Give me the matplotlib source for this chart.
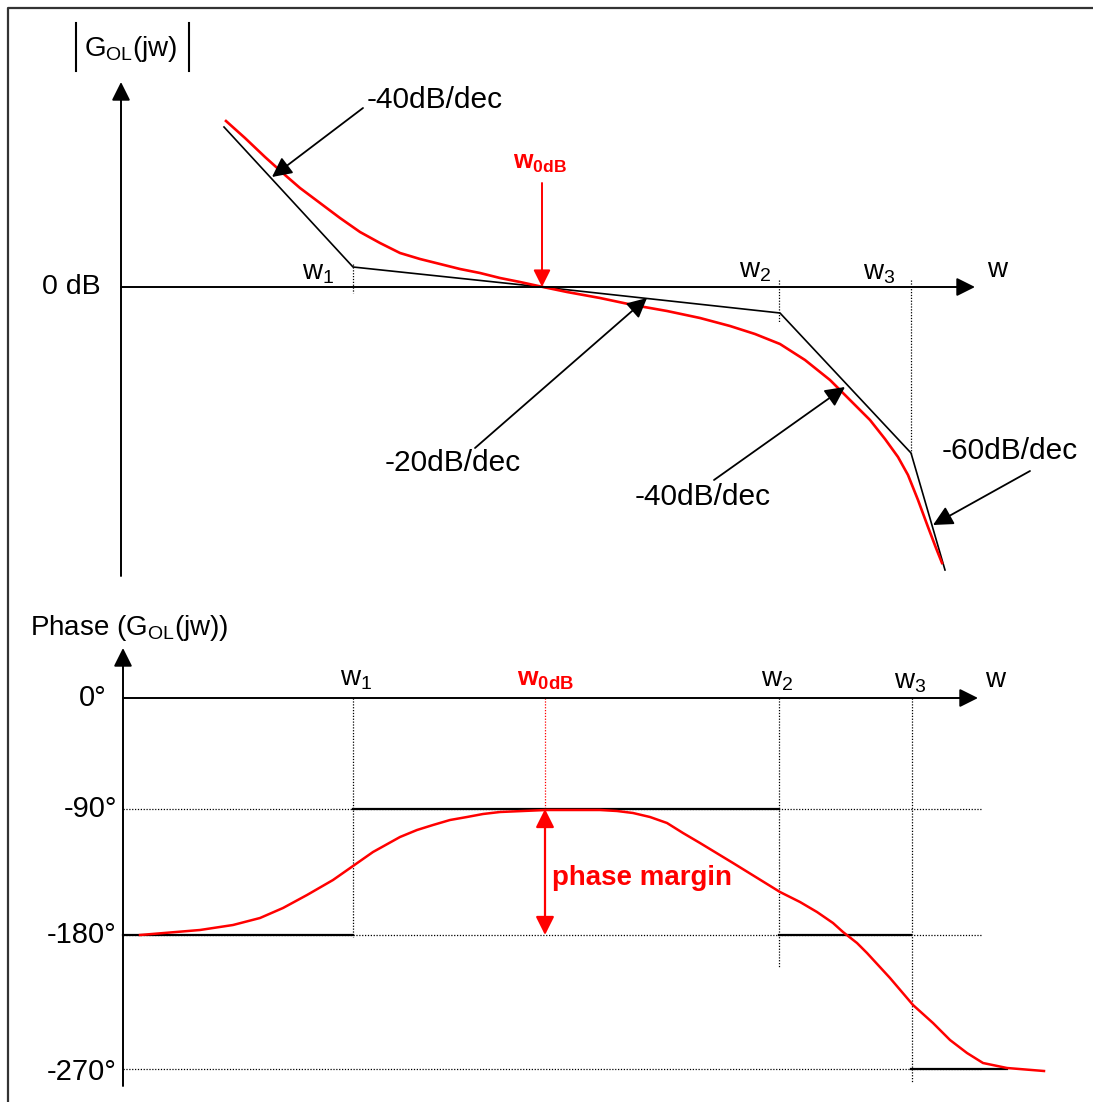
"""Bode sketch: open-loop magnitude asymptotes + phase with phase margin."""

import matplotlib.pyplot as plt

plt.rcParams.update({
    "font.family": ["Liberation Sans", "DejaVu Sans"],
    "mathtext.fontset": "custom",
    "mathtext.rm": "Liberation Sans",
    "mathtext.it": "Liberation Sans",
    "mathtext.bf": "Liberation Sans:bold",
    "lines.solid_joinstyle": "round",
})

RED = "#ff0000"

# --- positions (pixel units, y down)
W1, W0DB, W2, W3 = 353, 542, 779, 911
Y_0DB = 287

# magnitude: straight-line asymptotes
mag_asym_x = [224, 353, 542, 780, 911, 945]
mag_asym_y = [127, 267, 287, 313, 453, 570]

# magnitude: real curve
mag_x = [226, 245, 265, 285, 300, 320, 340, 360, 380, 400, 420, 440, 460,
         480, 500, 520, 543, 567, 600, 633, 667, 700, 730, 755, 780, 805,
         830, 850, 870, 885, 898, 908, 918, 928, 936, 942]
mag_y = [121, 138, 157, 175, 188, 203, 218, 232, 243, 253, 259, 264, 269,
         273, 278, 282, 287, 292, 298, 305, 311, 318, 326, 334, 344, 360,
         380, 400, 420, 439, 457, 475, 500, 527, 548, 563]

# phase levels
phase_ticks = ["0°", "-90°", "-180°", "-270°"]
phase_y = [698, 809, 935, 1069]

# phase asymptote segments (x0, x1, level index)
phase_seg_x0 = [123, 353, 779, 911]
phase_seg_x1 = [353, 779, 911, 1007]
phase_seg_lvl = [2, 1, 2, 3]

# phase: real curve
ph_x = [140, 200, 233, 260, 283, 307, 333, 353, 373, 400, 417, 433, 450,
        467, 483, 500, 546, 600, 617, 633, 650, 667, 683, 700, 733, 780,
        800, 817, 833, 843, 857, 867, 890, 913, 933, 950, 967, 983, 1007, 1044]
ph_y = [935, 930, 925, 918, 908, 895, 880, 866, 852, 837, 830, 825, 820,
        817, 814, 812, 810, 810, 811, 813, 817, 823, 833, 843, 863, 892,
        902, 912, 923, 932, 943, 953, 978, 1005, 1023, 1040, 1053, 1063, 1068, 1071]

# slope callouts: label, text position, arrow tail, arrow tip
slope_labels = ["-40dB/dec", "-20dB/dec", "-40dB/dec", "-60dB/dec"]
slope_text = [(367, 100), (385, 463), (635, 497), (942, 451)]
slope_tail = [(363, 108), (475, 448), (714, 480), (1030, 471)]
slope_tip = [(272, 177), (647, 298), (845, 387), (933, 525)]


def arrow(ax, tail, tip, color="k", lw=1.4, style="-|>", ms=26):
    ax.annotate("", xy=tip, xytext=tail,
                arrowprops=dict(arrowstyle=style, color=color, lw=lw,
                                mutation_scale=ms, shrinkA=0, shrinkB=0))


fig = plt.figure(figsize=(10.93, 11.02), dpi=100)
ax = fig.add_axes([0, 0, 1, 1])
ax.set_xlim(0, 1093)
ax.set_ylim(1102, 0)
ax.axis("off")

# outer frame (top + left only are visible)
ax.plot([8, 8, 1093], [1102, 8, 8], color="#333333", lw=1.6)

FS = 20
FS_SLOPE = 21.5
dot = (0, (1, 1.3))

# ================= magnitude =================
arrow(ax, (121, 576), (121, 82), ms=28)
arrow(ax, (121, Y_0DB), (975, Y_0DB), ms=28)
ax.plot([76, 76], [23, 71], color="k", lw=1.5)
ax.plot([189, 189], [23, 71], color="k", lw=1.5)
ax.text(131, 49, r"$\mathregular{G_{OL}(jw)}$", fontsize=FS, ha="center", va="center")
ax.text(101, 287, "0 dB", fontsize=FS + 0.5, ha="right", va="center")
ax.text(997, 270, "w", fontsize=FS, ha="center", va="center")
ax.text(318, 273, r"$\mathregular{w_1}$", fontsize=FS, ha="center", va="center")
ax.text(755, 271, r"$\mathregular{w_2}$", fontsize=FS, ha="center", va="center")
ax.text(879, 273, r"$\mathregular{w_3}$", fontsize=FS, ha="center", va="center")

ax.plot([W1, W1], [264, 293], color="k", lw=0.9, ls=dot)
ax.plot([W2, W2], [280, 323], color="k", lw=0.9, ls=dot)
ax.plot([W3, W3], [280, 455], color="k", lw=0.9, ls=dot)

ax.plot(mag_asym_x, mag_asym_y, color="k", lw=1.2)
ax.plot(mag_x, mag_y, color=RED, lw=1.9)

for lab, (tx, ty), tail, tip in zip(slope_labels, slope_text, slope_tail, slope_tip):
    ax.text(tx, ty, lab, fontsize=FS_SLOPE, ha="left", va="center")
    arrow(ax, tail, tip, lw=1.3, ms=30)

ax.text(540, 163, r"$\mathbf{w_{0dB}}$", fontsize=FS - 2, color=RED,
        ha="center", va="center")
arrow(ax, (W0DB, 183), (W0DB, Y_0DB), color=RED, lw=1.4, ms=26)

# ================= phase =================
ax.text(30, 628, r"Phase ($\mathregular{G_{OL}(jw)}$)", fontsize=FS,
        ha="left", va="center")
arrow(ax, (123, 1086), (123, 648), ms=28)
arrow(ax, (123, phase_y[0]), (978, phase_y[0]), ms=28)
ax.text(995, 680, "w", fontsize=FS, ha="center", va="center")
ax.text(356, 679, r"$\mathregular{w_1}$", fontsize=FS, ha="center", va="center")
ax.text(777, 680, r"$\mathregular{w_2}$", fontsize=FS, ha="center", va="center")
ax.text(910, 682, r"$\mathregular{w_3}$", fontsize=FS, ha="center", va="center")
ax.text(545, 680, r"$\mathbf{w_{0dB}}$", fontsize=FS - 1, color=RED,
        ha="center", va="center")

for lab, y in zip(phase_ticks, phase_y):
    ax.text(117 if lab != "0°" else 107, y + (3 if lab == "-270°" else 0), lab,
            fontsize=FS + 1, ha="right", va="center")
for y in phase_y[1:]:
    ax.plot([123, 982], [y, y], color="k", lw=0.9, ls=dot)

ax.plot([W1, W1], [phase_y[0], 937], color="k", lw=0.9, ls=dot)
ax.plot([W0DB + 3, W0DB + 3], [phase_y[0], 809], color=RED, lw=0.9, ls=dot)
ax.plot([W2, W2], [phase_y[0], 967], color="k", lw=0.9, ls=dot)
ax.plot([W3 + 1, W3 + 1], [phase_y[0], 1082], color="k", lw=0.9, ls=dot)

for x0, x1, lv in zip(phase_seg_x0, phase_seg_x1, phase_seg_lvl):
    ax.plot([x0, x1], [phase_y[lv], phase_y[lv]], color="k", lw=1.6)

ax.plot(ph_x, ph_y, color=RED, lw=1.8)

arrow(ax, (W0DB + 3, phase_y[2]), (W0DB + 3, phase_y[1]), color=RED, lw=1.6,
      style="<|-|>", ms=28)
ax.text(552, 878, "phase margin", fontsize=FS, color=RED, fontweight="bold",
        ha="left", va="center")

fig.savefig("out.png", dpi=100)
